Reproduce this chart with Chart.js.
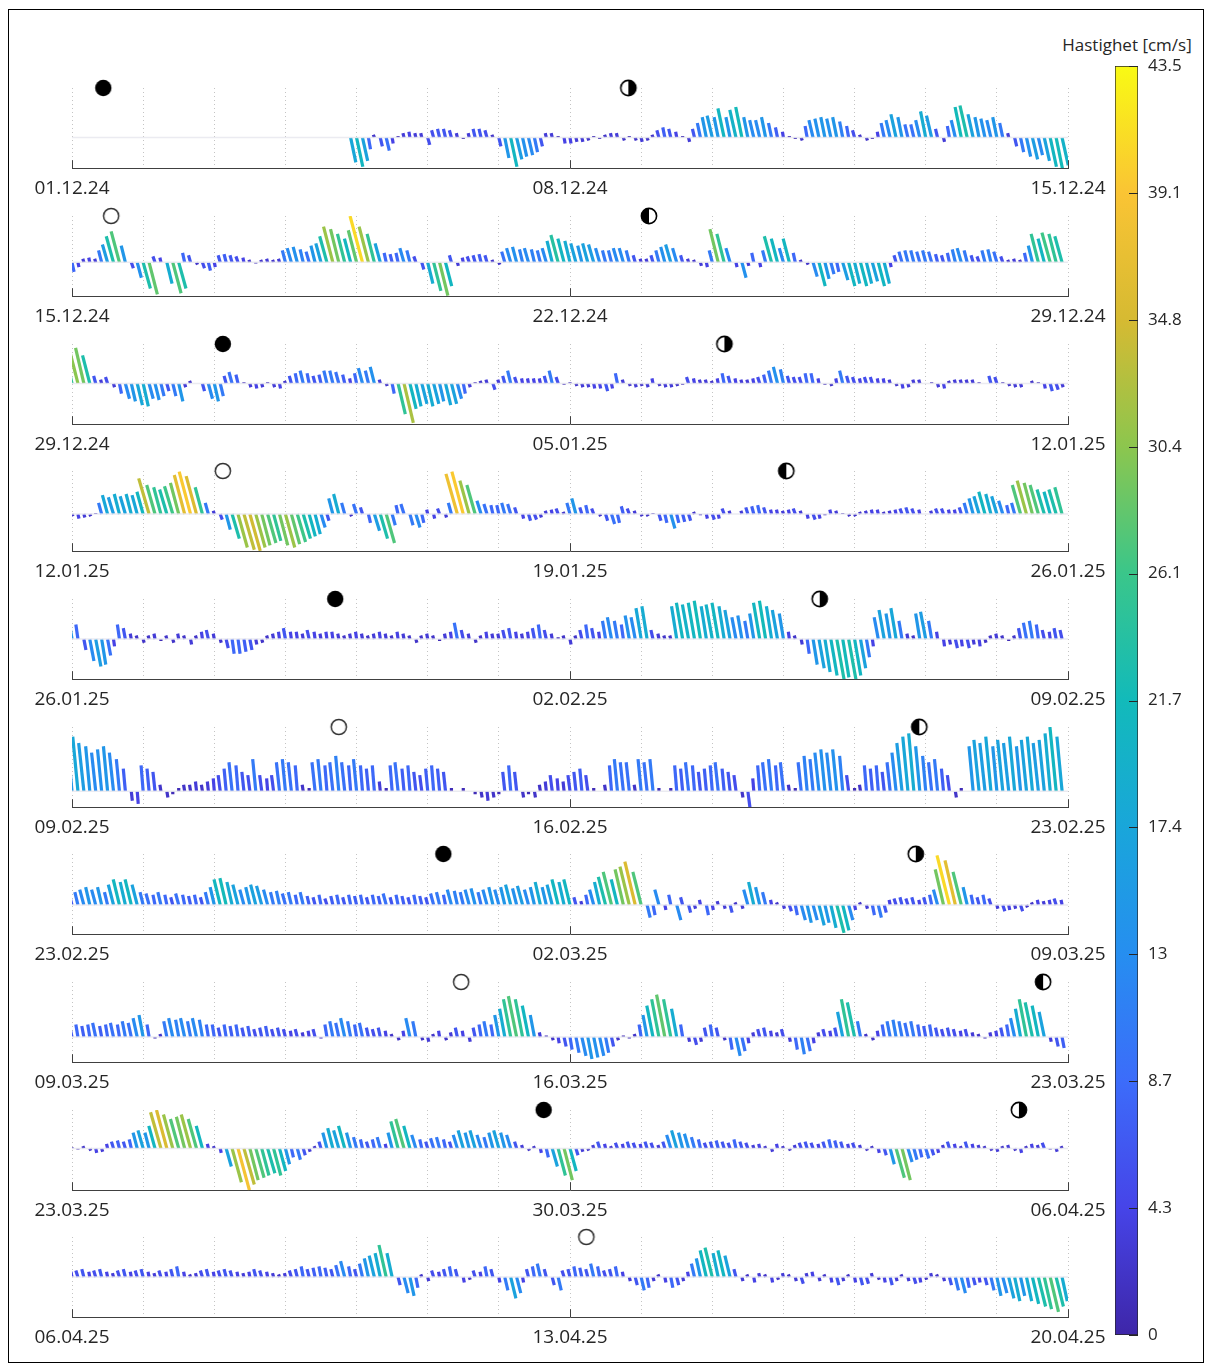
<!DOCTYPE html>
<html>
<head>
<meta charset="utf-8">
<script src="https://cdn.jsdelivr.net/npm/chart.js@4.4.1/dist/chart.umd.min.js"></script>
<style>
  body { margin: 0; background: #fff; }
  #frame { position: absolute; left: 8px; top: 9px; width: 1196px; height: 1354px; border: 1.5px solid #000; box-sizing: border-box; }
  .panel { position: absolute; left: 0; }
  #cbar { position: absolute; left: 1090px; top: 30px; }
  #cbTitle { position: absolute; left: 1040px; top: 33px; width: 174px; text-align: center;
             font: 17px 'Open Sans', sans-serif; color: #262626; white-space: nowrap; }
</style>
</head>
<body>
<div id="frame"></div>
<div id="cbTitle">Hastighet [cm/s]</div>
<canvas id="cbar" width="116" height="1330"></canvas>
<div id="panels"></div>
<script>
// two-hourly current sticks, north (v) and east (u) components in cm/s
const STEP_H = 2;
const LEAN_H = 0.35;          // hours of time axis per cm/s of east component
const CBAR_MAX = 43.5;

const dateLabels = [
  ['01.12.24', '08.12.24', '15.12.24'],
  ['15.12.24', '22.12.24', '29.12.24'],
  ['29.12.24', '05.01.25', '12.01.25'],
  ['12.01.25', '19.01.25', '26.01.25'],
  ['26.01.25', '02.02.25', '09.02.25'],
  ['09.02.25', '16.02.25', '23.02.25'],
  ['23.02.25', '02.03.25', '09.03.25'],
  ['09.03.25', '16.03.25', '23.03.25'],
  ['23.03.25', '30.03.25', '06.04.25'],
  ['06.04.25', '13.04.25', '20.04.25']
];
const yMin = [-21, -28.5, -32, -33.3, -22, -5, -23, -16, -37, -30];
const yMax = [34, 39, 31, 38.6, 22, 20, 40, 35, 34, 30];
const firstStick = [47, 0, 0, 0, 0, 0, 0, 0, 0, 0];

// moon phases: day within the panel and kind
const moonDays = [[0.44, 7.82], [0.55, 8.11], [2.12, 9.17], [2.12, 10.04], [3.70, 10.51],
                  [3.75, 11.91], [5.22, 11.86], [5.47, 13.65], [6.63, 13.31], [7.23]];
const moonKinds = [['new', 'first'], ['full', 'last'], ['new', 'first'], ['full', 'last'], ['new', 'first'],
                   ['full', 'last'], ['new', 'first'], ['full', 'last'], ['new', 'first'], ['full']];

const cbarTicks = [0, 4.35, 8.7, 13.05, 17.4, 21.75, 26.1, 30.45, 34.8, 39.15, 43.5];
const cbarTickLabels = ['0', '4.3', '8.7', '13', '17.4', '21.7', '26.1', '30.4', '34.8', '39.1', '43.5'];

const north01 = [-17,-20,-16,-8,2,-6,-9,-4,1,3,4,3,3,-5,5,6,6,5,3,-1,3,6,6,5,2,-6,-14,-20,-15,-13,-12,-10,-6,3,3,1,-4,-4,-3,-3,-2,1,-1,2,3,3,-2,1,-2,-3,-2,2,5,7,6,4,1,-3,6,10,14,15,14,20,14,19,21,14,12,12,14,10,7,4,1,-1,-2,8,12,13,14,13,14,11,8,5,2,-2,-1,4,10,12,16,14,9,9,12,18,15,6,-3,8,12,21,22,16,14,13,12,14,10,3,-6,-10,-13,-15,-12,-16,-20,-21,-19];
const east01 = [5,6,5,2,-1,2,3,1,0,-1,-1,-1,-1,2,-2,-2,-2,-2,-1,0,-1,-2,-2,-2,-1,2,4,6,5,4,4,3,2,-1,-1,0,1,1,1,1,1,0,0,-1,-1,-1,1,0,1,1,1,-1,-2,-2,-2,-1,0,1,-2,-3,-4,-5,-4,-6,-4,-6,-6,-4,-4,-4,-4,-3,-2,-1,0,0,1,-2,-4,-4,-4,-4,-4,-3,-2,-2,-1,1,0,-1,-3,-4,-5,-4,-3,-3,-4,-5,-5,-2,1,-2,-4,-6,-7,-5,-4,-4,-4,-4,-3,-1,2,3,4,5,4,5,6,6,6];

const north02 = [-8,-4,3,4,3,10,15,22,26,14,-5,-13, -22,-27,5,4,-18,-26,-22,8,6,-2,-5,-7, -4,6,7,6,5,4,2,-1,2,3,2,3, 10,12,13,11,9,14,16,22,30,28,24,20, 27,39,30,24,16,8,7,8,12,10,5,-6, -18,-24,-28,-20,6,-3,4,5,6,7,6,2, -2,9,12,13,11,12,11,10,12,18,23,20, 18,16,14,16,15,12,10,10,12,12,10,6, 3,3,6,10,13,15,12,6,3,2,-3,-4, 10,28,24,12,-4,-13,-3,8,-4,10,22,20, 12,20,8,2,-2,-12,-20,-14,-10,-8,-15,-20, -18,-20,-18,-16,-20,-18,-4,6,9,10,10,9, 10,9,7,6,8,11,12,10,6,5,10,11, 9,5,2,3,2,8,14,24,20,25,24,22];
const east02 = [2,1,-1,-1,-1,-3,-5,-7,-8,-4,2,4, 7,8,-2,-1,5,8,7,-2,-2,1,2,2, 1,-2,-2,-2,-2,-1,-1,0,-1,-1,-1,-1, -3,-4,-4,-3,-3,-4,-5,-7,-9,-8,-7,-6, -8,-12,-9,-7,-5,-2,-2,-2,-4,-3,-2,2, 5,7,8,6,-2,1,-1,-2,-2,-2,-2,-1, 1,-3,-4,-4,-3,-4,-3,-3,-4,-5,-7,-6, -5,-5,-4,-5,-5,-4,-3,-3,-4,-4,-3,-2, -1,-1,-2,-3,-4,-5,-4,-2,-1,-1,1,1, -3,-8,-7,-4,1,4,1,-2,1,-3,-7,-6, -4,-6,-2,-1,1,4,6,4,3,2,5,6, 5,6,5,5,6,5,1,-2,-3,-3,-3,-3, -3,-3,-2,-2,-2,-3,-4,-3,-2,-2,-3,-3, -3,-2,-1,-1,-1,-2,-4,-7,-6,-8,-7,-7];

const north03 = [24,29,28,22,6,3,5,-3,-8,-12,-14,-17, -18,-12,-13,-10,-6,-10,-14,-3,2,0,-6,-12, -14,-10,6,9,7,1,-3,-4,-3,1,-3,-4, 2,6,8,10,8,6,7,10,10,9,7,4, 8,12,10,13,3,-2,-8,-24,-31,-20,-18,-16, -18,-16,-14,-17,-16,-12,-8,-3,1,2,3,-5, 3,6,10,5,4,4,4,4,6,10,5,-1, 1,-2,-3,-3,-4,-4,-6,-4,8,3,-2,-3, -2,-3,4,-2,-3,-3,-2,-1,5,4,3,3, 2,4,8,6,4,3,3,4,5,7,10,13, 11,6,5,5,8,8,4,-1,-2,4,10,6, 5,4,5,5,4,4,3,-2,-4,-3,3,3, 0,1,-3,-4,2,3,3,3,3,1,0,6, 5,1,-2,-3,-3,0,2,1,-4,-6,-5,-3];
const east03 = [-7,-9,-8,-7,-2,-1,-2,1,2,4,4,5, 5,4,4,3,2,3,4,1,-1,0,2,4, 4,3,-2,-3,-2,0,1,1,1,0,1,1, -1,-2,-2,-3,-2,-2,-2,-3,-3,-3,-2,-1, -2,-4,-3,-4,-1,1,2,7,9,6,5,5, 5,5,4,5,5,4,2,1,0,-1,-1,2, -1,-2,-3,-2,-1,-1,-1,-1,-2,-3,-2,0, 0,1,1,1,1,1,2,1,-2,-1,1,1, 1,1,-1,1,1,1,1,0,-2,-1,-1,-1, -1,-1,-2,-2,-1,-1,-1,-1,-2,-2,-3,-4, -3,-2,-2,-2,-2,-2,-1,0,1,-1,-3,-2, -2,-1,-2,-2,-1,-1,-1,1,1,1,-1,-1, 0,0,1,1,-1,-1,-1,-1,-1,0,0,-2, -2,0,1,1,1,0,-1,0,1,2,2,1];

const north04 = [-2,-4,-3,-2,1,10,17,15,18,16,18,17, 20,32,26,24,22,25,28,35,38,34,24,10, 3,-5,-14,-22,-30,-32,-33,-30,-28,-26,-24,-28, -30,-27,-25,-22,-20,-18,-12,-6,14,18,10,-2, 9,6,-8,-15,-22,-26,-10,8,9,-10,-12,-8, 4,-4,5,-3,10,36,38,30,26,12,9,8, 8,10,9,6,-4,-6,-5,-3,3,4,5,2, 10,14,6,8,5,-2,-6,-9,-8,7,5,3, -2,-2,1,-6,-8,-13,-8,-7,-6,2,-1,-4, -5,-4,5,3,0,3,6,7,8,6,4,4, 3,4,5,3,-4,-5,-4,-1,4,3,1,-2, -2,2,3,4,4,2,3,4,5,6,5,4, 0,3,5,5,4,4,6,10,14,16,20,18, 16,12,8,10,26,30,28,26,22,20,22,24];
const east04 = [1,1,1,1,0,-3,-5,-5,-5,-5,-5,-5, -6,-10,-8,-7,-7,-8,-8,-10,-11,-10,-7,-3, -1,2,4,7,9,10,10,9,8,8,7,8, 9,8,8,7,6,5,4,2,-4,-5,-3,1, -3,-2,2,5,7,8,3,-2,-3,3,4,2, -1,1,-2,1,-3,-11,-11,-9,-8,-4,-3,-2, -2,-3,-3,-2,1,2,2,1,-1,-1,-2,-1, -3,-4,-2,-2,-2,1,2,3,2,-2,-2,-1, 1,1,0,2,2,4,2,2,2,-1,0,1, 2,1,-2,-1,0,-1,-2,-2,-2,-2,-1,-1, -1,-1,-2,-1,1,2,1,0,-1,-1,0,1, 1,-1,-1,-1,-1,-1,-1,-1,-2,-2,-2,-1, 0,-1,-2,-2,-1,-1,-2,-3,-4,-5,-6,-5, -5,-4,-2,-3,-8,-9,-8,-8,-7,-6,-7,-7];

const north05 = [14,8,-6,-12,-15,-14,-9,-4,8,6,3,2, -2,2,3,-1,2,-2,3,2,-3,2,4,5, 3,-2,-5,-8,-8,-7,-6,-3,-2,2,3,4, 6,4,4,3,5,4,3,4,4,3,2,3, 4,3,2,3,4,3,2,4,3,2,-2,2, 3,2,-1,3,4,9,5,3,-2,2,4,3, 3,5,6,4,3,4,6,8,5,3,1,2, -3,2,5,8,6,4,10,12,10,8,13,12, 17,18,5,3,2,2,18,20,19,20,21,18, 19,20,18,16,12,13,10,14,20,21,18,16, 14,4,2,-3,-8,-14,-16,-18,-20,-22,-21,-22, -20,-16,-10,-4,12,16,14,17,10,3,2,14, 15,10,4,-4,-3,-5,-4,-5,-3,-4,-2,2, 3,2,-1,2,6,9,10,8,5,4,6,5];
const east05 = [-4,-2,2,4,5,4,3,1,-2,-2,-1,-1, 1,-1,-1,0,-1,1,-1,-1,1,-1,-1,-2, -1,1,2,2,2,2,2,1,1,-1,-1,-1, -2,-1,-1,-1,-2,-1,-1,-1,-1,-1,-1,-1, -1,-1,-1,-1,-1,-1,-1,-1,-1,-1,1,-1, -1,-1,0,-1,-1,-3,-2,-1,1,-1,-1,-1, -1,-2,-2,-1,-1,-1,-2,-2,-2,-1,0,-1, 1,-1,-2,-2,-2,-1,-3,-4,-3,-2,-4,-4, -5,-5,-2,-1,-1,-1,-5,-6,-6,-6,-6,-5, -6,-6,-5,-5,-4,-4,-3,-4,-6,-6,-5,-5, -4,-1,-1,1,2,4,5,5,6,7,6,7, 6,5,3,1,-4,-5,-4,-5,-3,-1,-1,-4, -5,-3,-1,1,1,2,1,2,1,1,1,-1, -1,-1,0,-1,-2,-3,-3,-2,-2,-1,-2,-2];

const north06 = [14,17,15,14,12,13,14,12,10,7,-3,-4, 8,7,6,2,-2,-1,1,2,2,3,2,3, 4,5,7,9,8,6,5,10,5,4,5,9, 10,9,8,2,1,9,10,8,9,11,9,8, 10,8,7,8,3,1,8,9,7,8,6,5, 7,8,7,6,1,0,1,0,-1,-2,-3,-2, -1,6,8,6,-2,-1,-2,2,3,5,4,3, 5,6,7,5,1,0,2,8,10,9,9,2, 10,9,10,1,0,1,8,7,9,8,6,7, 8,9,7,6,5,-2,-5,4,8,9,10,8, 9,2,1,9,11,10,12,13,12,13,11,5, 1,2,8,7,8,6,9,12,15,17,18,14, 11,9,10,7,5,-2,1,0,14,16,15,17, 14,16,15,17,14,16,17,15,16,18,20,17];
const east06 = [-4,-5,-5,-4,-4,-4,-4,-4,-3,-2,1,1, -2,-2,-2,-1,1,0,0,-1,-1,-1,-1,-1, -1,-2,-2,-3,-2,-2,-2,-3,-2,-1,-2,-3, -3,-3,-2,-1,0,-3,-3,-2,-3,-3,-3,-2, -3,-2,-2,-2,-1,0,-2,-3,-2,-2,-2,-2, -2,-2,-2,-2,0,0,0,0,0,1,1,1, 0,-2,-2,-2,1,0,1,-1,-1,-2,-1,-1, -2,-2,-2,-2,0,0,-1,-2,-3,-3,-3,-1, -3,-3,-3,0,0,0,-2,-2,-3,-2,-2,-2, -2,-3,-2,-2,-2,1,2,-1,-2,-3,-3,-2, -3,-1,0,-3,-3,-3,-4,-4,-4,-4,-3,-2, 0,-1,-2,-2,-2,-2,-3,-4,-5,-5,-5,-4, -3,-3,-3,-2,-2,1,0,0,-4,-5,-5,-5, -4,-5,-5,-5,-4,-5,-5,-5,-5,-5,-6,-5];

const north07 = [6,10,12,14,12,14,10,16,20,18,20,16, 10,9,8,10,8,6,9,8,7,8,6,10, 14,20,21,18,16,12,14,16,15,12,10,11, 9,10,8,10,7,6,8,5,7,8,6,8, 7,8,6,8,7,9,6,8,7,6,8,7, 6,9,10,8,12,11,10,12,13,10,12,14, 12,14,16,13,15,12,14,18,14,16,20,18, 20,6,3,8,12,18,22,26,20,28,30,34, 26,-10,-8,12,-4,8,-12,6,-6,-3,4,-8, -4,3,-3,-6,2,-3,12,18,14,10,4,2, -3,-5,-8,-12,-14,-12,-16,-14,-18,-22,-20,-12, -4,2,-3,-8,-10,-6,4,5,6,5,6,4, 6,8,12,28,39,35,26,14,8,6,8,5, -3,-5,-4,-3,-5,-2,2,4,3,4,5,4];
const east07 = [-2,-3,-4,-4,-4,-4,-3,-5,-6,-5,-6,-5, -3,-3,-2,-3,-2,-2,-3,-2,-2,-2,-2,-3, -4,-6,-6,-5,-5,-4,-4,-5,-5,-4,-3,-3, -3,-3,-2,-3,-2,-2,-2,-2,-2,-2,-2,-2, -2,-2,-2,-2,-2,-3,-2,-2,-2,-2,-2,-2, -2,-3,-3,-2,-4,-3,-3,-4,-4,-3,-4,-4, -4,-4,-5,-4,-5,-4,-4,-5,-4,-5,-6,-5, -6,-2,-1,-2,-4,-5,-7,-8,-6,-8,-9,-10, -8,3,2,-4,1,-2,4,-2,2,1,-1,2, 1,-1,1,2,-1,1,-4,-5,-4,-3,-1,-1, 1,2,2,4,4,4,5,4,5,7,6,4, 1,-1,1,2,3,2,-1,-2,-2,-2,-2,-1, -2,-2,-4,-8,-12,-10,-8,-4,-2,-2,-2,-2, 1,2,1,1,2,1,-1,-1,-1,-1,-2,-1];

const north08 = [6,8,7,8,9,7,8,9,8,10,9,12, 14,8,-1,2,10,12,11,12,10,12,11,8, 8,6,8,7,8,6,7,5,6,7,5,6, 5,4,5,3,4,5,-1,8,10,9,12,10, 8,9,6,5,6,4,2,-2,4,12,10,-2, -3,2,4,-2,3,6,4,-3,6,8,10,8, 14,18,24,26,24,20,14,3,1,-2,-4,-6, -8,-10,-12,-14,-13,-12,-10,-6,-2,1,-1,2, 8,14,20,24,27,24,18,8,-3,-5,-3,6, 8,6,-2,-8,-12,-9,-4,3,5,6,4,3, 5,-3,-8,-11,-9,-4,3,5,4,6,16,24, 22,10,2,-2,4,8,10,11,10,9,10,8, 7,8,6,5,6,5,4,5,3,2,-1,3, 4,6,8,12,18,24,22,20,16,-3,-6,-7];
const east08 = [-2,-2,-2,-2,-3,-2,-2,-3,-2,-3,-3,-4, -4,-2,0,-1,-3,-4,-3,-4,-3,-4,-3,-2, -2,-2,-2,-2,-2,-2,-2,-2,-2,-2,-2,-2, -2,-1,-2,-1,-1,-2,0,-2,-3,-3,-4,-3, -2,-3,-2,-2,-2,-1,-1,1,-1,-4,-3,1, 1,-1,-1,1,-1,-2,-1,1,-2,-2,-3,-2, -4,-5,-7,-8,-7,-6,-4,-1,0,1,1,2, 2,3,4,4,4,4,3,2,1,0,0,-1, -2,-4,-6,-7,-8,-7,-5,-2,1,2,1,-2, -2,-2,1,2,4,3,1,-1,-2,-2,-1,-1, -2,1,2,3,3,1,-1,-2,-1,-2,-5,-7, -7,-3,-1,1,-1,-2,-3,-3,-3,-3,-3,-2, -2,-2,-2,-2,-2,-2,-1,-2,-1,-1,0,-1, -1,-2,-2,-4,-5,-7,-7,-6,-5,1,2,2];

const north09 = [1,-1,2,-2,-4,-3,4,6,7,6,8,14, 16,14,20,32,34,30,26,28,30,26,20,4, 2,-4,-16,-30,-37,-32,-28,-26,-24,-22,-24,-20, -14,-8,-10,-6,-3,2,6,14,18,16,20,14, 10,8,6,8,10,4,14,24,26,20,12,8, 6,9,10,8,6,12,16,14,16,12,10,14, 16,14,12,6,3,-2,2,-4,-8,-16,-24,-28, -20,-6,-3,-2,3,6,4,2,5,4,6,5, 4,6,5,3,6,12,16,14,13,10,8,5, 6,7,6,5,8,6,5,3,4,2,-3,4, 2,-2,3,5,6,5,4,6,8,7,6,4, 5,3,-2,2,-4,-6,-14,-26,-28,-12,-10,-8, -9,-6,-4,3,6,4,2,6,4,3,2,-2, -3,2,3,-2,-4,2,4,3,5,-1,-3,2];
const east09 = [0,0,-1,1,1,1,-1,-2,-2,-2,-2,-4, -5,-4,-6,-10,-10,-9,-8,-8,-9,-8,-6,-1, -1,1,5,9,11,10,8,8,7,7,7,6, 4,2,3,2,1,-1,-2,-4,-5,-5,-6,-4, -3,-2,-2,-2,-3,-1,-4,-7,-8,-6,-4,-2, -2,-3,-3,-2,-2,-4,-5,-4,-5,-4,-3,-4, -5,-4,-4,-2,-1,1,-1,1,2,5,7,8, 6,2,1,1,-1,-2,-1,-1,-2,-1,-2,-2, -1,-2,-2,-1,-2,-4,-5,-4,-4,-3,-2,-2, -2,-2,-2,-2,-2,-2,-2,-1,-1,-1,1,-1, -1,1,-1,-2,-2,-2,-1,-2,-2,-2,-2,-1, -2,-1,1,-1,1,2,4,8,8,4,3,2, 3,2,1,-1,-2,-1,-1,-2,-1,-1,-1,1, 1,-1,-1,1,1,-1,-1,-1,-2,0,1,-1];

const north10 = [4,5,6,4,5,6,4,3,5,6,4,5, 6,4,3,5,4,6,8,4,2,3,5,6, 4,5,6,5,4,3,4,6,5,4,3,2, 3,5,6,8,6,7,8,7,6,9,12,8, 6,10,14,16,18,24,18,-6,-12,-14,-8,2, -3,5,4,6,8,6,-4,-2,5,4,8,6, -4,-10,-16,-12,-4,6,8,10,6,-6,-10,5, 6,8,7,6,10,8,5,6,8,4,-3,-6, -10,-8,-3,2,-4,-8,-6,-3,4,10,14,20, 22,18,20,16,6,-3,2,-4,3,2,-4,-2, 3,2,-3,-5,3,4,-3,2,-4,-6,-3,2, -4,-6,-5,3,-2,-4,-6,-3,2,-3,-5,-4, -2,3,2,-3,-6,-10,-12,-8,-6,-4,-6,-10, -14,-12,-16,-18,-14,-18,-20,-22,-24,-26,-22,-18];
const east10 = [-1,-2,-2,-1,-2,-2,-1,-1,-2,-2,-1,-2, -2,-1,-1,-2,-1,-2,-2,-1,-1,-1,-2,-2, -1,-2,-2,-2,-1,-1,-1,-2,-2,-1,-1,-1, -1,-2,-2,-2,-2,-2,-2,-2,-2,-3,-4,-2, -2,-3,-4,-5,-5,-7,-5,2,4,4,2,-1, 1,-2,-1,-2,-2,-2,1,1,-2,-1,-2,-2, 1,3,5,4,1,-2,-2,-3,-2,2,3,-2, -2,-2,-2,-2,-3,-2,-2,-2,-2,-1,1,2, 3,2,1,-1,1,2,2,1,-1,-3,-4,-6, -7,-5,-6,-5,-2,1,-1,1,-1,-1,1,1, -1,-1,1,2,-1,-1,1,-1,1,2,1,-1, 1,2,2,-1,1,1,2,1,-1,1,2,1, 1,-1,-1,1,2,3,4,2,2,1,2,3, 4,4,5,5,4,5,6,7,7,8,7,5];

const northV = [north01, north02, north03, north04, north05, north06, north07, north08, north09, north10];
const eastU = [east01, east02, east03, east04, east05, east06, east07, east08, east09, east10];

// panel placement on the page
const axTop = [88, 216, 344, 471, 599, 727, 854, 982, 1110, 1237];
const PAD_TOP = 14;

// parula colour stops
const parula = [
  [0.00, 62, 38, 168], [0.10, 70, 68, 232], [0.20, 60, 108, 250], [0.30, 38, 142, 240],
  [0.40, 25, 166, 218], [0.50, 18, 186, 186], [0.60, 58, 198, 138], [0.70, 140, 198, 78],
  [0.80, 214, 186, 50], [0.90, 250, 196, 52], [1.00, 249, 250, 20]
];
function parulaColor(f) {
  f = Math.max(0, Math.min(1, f));
  for (let i = 1; i < parula.length; i++) {
    if (f <= parula[i][0]) {
      const a = parula[i - 1], b = parula[i], k = (f - a[0]) / (b[0] - a[0]);
      return `rgb(${Math.round(a[1] + k * (b[1] - a[1]))},${Math.round(a[2] + k * (b[2] - a[2]))},${Math.round(a[3] + k * (b[3] - a[3]))})`;
    }
  }
  return 'rgb(249,250,20)';
}

function moonIcon(kind) {
  const c = document.createElement('canvas');
  c.width = c.height = 20;
  const g = c.getContext('2d');
  const cx = 10, cy = 10, r = 7.6;
  if (kind === 'new') {
    g.fillStyle = '#000';
    g.beginPath(); g.arc(cx, cy, r + 0.6, 0, Math.PI * 2); g.fill();
    return c;
  }
  g.fillStyle = '#fff';
  g.beginPath(); g.arc(cx, cy, r, 0, Math.PI * 2); g.fill();
  if (kind !== 'full') {
    g.fillStyle = '#000';
    g.beginPath();
    if (kind === 'first') g.arc(cx, cy, r, -Math.PI / 2, Math.PI / 2);
    else g.arc(cx, cy, r, Math.PI / 2, Math.PI * 1.5);
    g.closePath(); g.fill();
  }
  g.lineWidth = kind === 'full' ? 1.5 : 1.6;
  g.strokeStyle = kind === 'full' ? '#333' : '#000';
  g.beginPath(); g.arc(cx, cy, r, 0, Math.PI * 2); g.stroke();
  return c;
}

Chart.defaults.font.family = "'Open Sans', sans-serif";

// short inward tick marks on the time axis
const innerTicks = {
  id: 'innerTicks',
  afterDraw(chart) {
    const xs = chart.scales.x, ctx = chart.ctx, b = chart.chartArea.bottom;
    ctx.save();
    ctx.strokeStyle = '#404040';
    ctx.lineWidth = 1;
    [0, 7, 14].forEach(d => {
      const px = Math.round(xs.getPixelForValue(d)) + 0.5;
      ctx.beginPath(); ctx.moveTo(px, b); ctx.lineTo(px, b - 8); ctx.stroke();
    });
    ctx.restore();
  }
};

function buildPanel(p) {
  const holder = document.createElement('div');
  holder.className = 'panel';
  holder.style.top = (axTop[p] - PAD_TOP) + 'px';
  const cv = document.createElement('canvas');
  cv.width = 1115; cv.height = 139;
  holder.appendChild(cv);
  document.getElementById('panels').appendChild(holder);

  const v = northV[p], u = eastU[p];
  const sticks = [], speed = [];
  v.forEach((vy, j) => {
    const t = (firstStick[p] + j) * STEP_H / 24;
    const ux = u[j] || 0;
    sticks.push({ x: t, y: 0 }, { x: t + ux * LEAN_H / 24, y: vy }, { x: t, y: null });
    speed.push(Math.hypot(ux, vy));
  });

  const moons = moonDays[p].map(d => ({ x: d, y: yMax[p] }));
  const icons = moonKinds[p].map(moonIcon);

  new Chart(cv, {
    type: 'line',
    data: {
      datasets: [
        {
          data: sticks, borderWidth: 3.2, pointRadius: 0, tension: 0, spanGaps: false,
          borderColor: '#4a4ae0', order: 2,
          segment: { borderColor: ctx => parulaColor(speed[Math.floor(ctx.p0DataIndex / 3)] / CBAR_MAX) }
        },
        {
          data: [{ x: 0, y: 0 }, { x: 14, y: 0 }], borderColor: 'rgba(232,232,238,0.85)',
          borderWidth: 1.5, pointRadius: 0, order: 1
        },
        {
          data: moons, showLine: false, pointStyle: ctx => icons[ctx.dataIndex],
          pointRadius: 9, clip: false, order: 0
        }
      ]
    },
    options: {
      animation: false, responsive: false, devicePixelRatio: 1,
      layout: { padding: { left: 72, right: 47, top: PAD_TOP, bottom: 4 } },
      plugins: { legend: { display: false }, tooltip: { enabled: false } },
      scales: {
        x: {
          type: 'linear', min: 0, max: 14,
          grid: { color: '#c4c4c4', lineWidth: 1, drawTicks: false },
          border: { display: true, color: '#404040', width: 1, dash: [1, 3] },
          ticks: {
            stepSize: 1, autoSkip: false, maxRotation: 0, padding: 9, color: '#262626',
            font: { size: 19 },
            callback: val => (val % 7 === 0 ? dateLabels[p][val / 7] : '')
          }
        },
        y: { display: false, min: yMin[p], max: yMax[p] }
      }
    },
    plugins: [innerTicks]
  });
}

for (let p = 0; p < 10; p++) buildPanel(p);

// colour bar
const cbarTickMarks = {
  id: 'cbarTickMarks',
  afterDatasetsDraw(chart) {
    const ys = chart.scales.y, ctx = chart.ctx, r = chart.chartArea.right;
    ctx.save();
    ctx.strokeStyle = '#262626';
    ctx.lineWidth = 1;
    cbarTicks.forEach(t => {
      const py = Math.round(ys.getPixelForValue(t)) + 0.5;
      ctx.beginPath(); ctx.moveTo(r - 9, py); ctx.lineTo(r, py); ctx.stroke();
    });
    ctx.restore();
  }
};

new Chart(document.getElementById('cbar'), {
  type: 'bar',
  data: {
    labels: [''],
    datasets: [{
      data: [CBAR_MAX],
      backgroundColor: ctx => {
        const area = ctx.chart.chartArea;
        if (!area) return '#3e26a8';
        const g = ctx.chart.ctx.createLinearGradient(0, area.bottom, 0, area.top);
        parula.forEach(s => g.addColorStop(s[0], `rgb(${s[1]},${s[2]},${s[3]})`));
        return g;
      },
      borderColor: '#262626', borderWidth: 1, borderSkipped: false,
      barPercentage: 1, categoryPercentage: 1
    }]
  },
  options: {
    animation: false, responsive: false, devicePixelRatio: 1,
    layout: { padding: { left: 25, right: 0, top: 36, bottom: 25 } },
    plugins: { legend: { display: false }, tooltip: { enabled: false } },
    scales: {
      x: { display: false },
      y: {
        position: 'right', min: 0, max: CBAR_MAX,
        grid: { display: false, drawTicks: false },
        border: { display: false },
        afterBuildTicks: s => { s.ticks = cbarTicks.map(v => ({ value: v })); },
        afterFit: s => { s.width = 68; },
        ticks: {
          padding: 10, color: '#262626', font: { size: 17 },
          callback: (val, i) => cbarTickLabels[i]
        }
      }
    }
  },
  plugins: [cbarTickMarks]
});
</script>
</body>
</html>
